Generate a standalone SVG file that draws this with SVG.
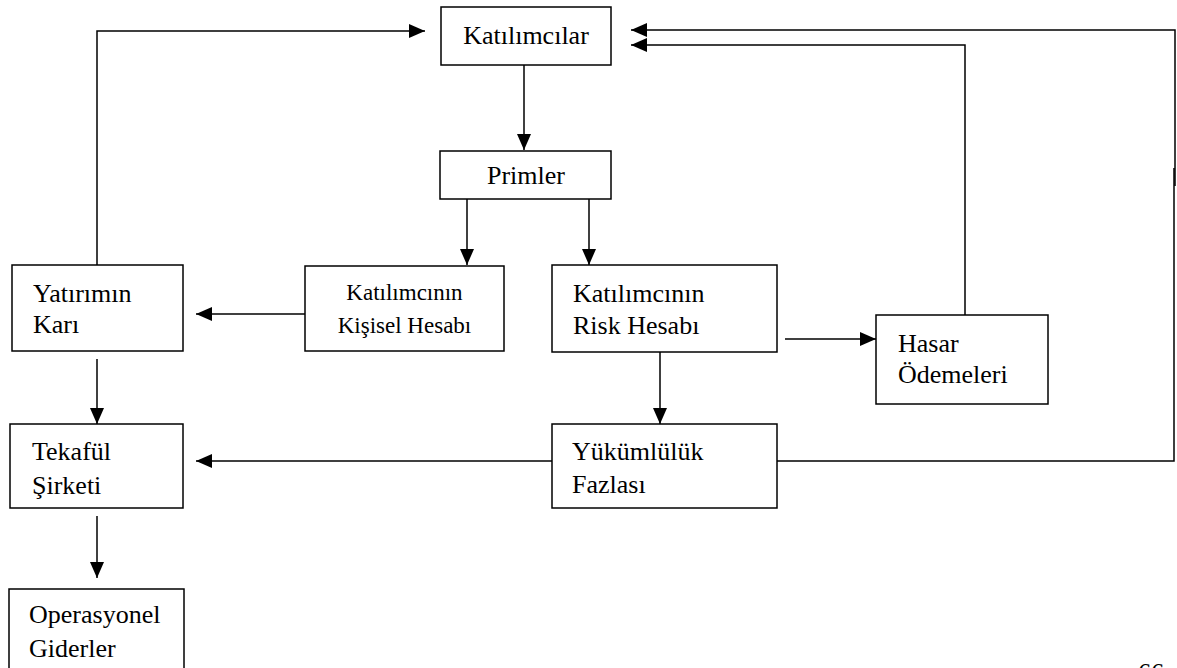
<svg xmlns="http://www.w3.org/2000/svg" width="1177" height="668" viewBox="0 0 1177 668">
<style>
.box{fill:#fff;stroke:#000;stroke-width:1.5}
.ln{fill:none;stroke:#000;stroke-width:1.5}
text{font-family:"Liberation Serif","Times New Roman",serif;font-size:26px;fill:#000}
.c{text-anchor:middle}
.s{font-size:23px}
</style>
<defs>
<marker id="ah" markerWidth="16" markerHeight="14" refX="16" refY="7" orient="auto" markerUnits="userSpaceOnUse">
<path d="M0,0 L16,7 L0,14 Z" fill="#000"/>
</marker>
</defs>
<rect width="1177" height="668" fill="#fff"/>
<g id="connectors">
<path class="ln" d="M97,265 V31 H425" marker-end="url(#ah)"/>
<path class="ln" d="M777,461 H1174 V168"/>
<path class="ln" d="M1175,186 V30 H631" marker-end="url(#ah)"/>
<path class="ln" d="M965,315 V45 H631" marker-end="url(#ah)"/>
<path class="ln" d="M524,65 V150" marker-end="url(#ah)"/>
<path class="ln" d="M467,199 V265" marker-end="url(#ah)"/>
<path class="ln" d="M589,199 V265" marker-end="url(#ah)"/>
<path class="ln" d="M305,314 H196" marker-end="url(#ah)"/>
<path class="ln" d="M785,339 H876" marker-end="url(#ah)"/>
<path class="ln" d="M660,352 V424" marker-end="url(#ah)"/>
<path class="ln" d="M97,359 V424" marker-end="url(#ah)"/>
<path class="ln" d="M552,461 H196" marker-end="url(#ah)"/>
<path class="ln" d="M97,516 V578" marker-end="url(#ah)"/>
</g>
<g id="katilimcilar">
<rect class="box" x="441" y="7" width="170" height="58"/>
<text class="c" x="526" y="44">Katılımcılar</text>
</g>
<g id="primler">
<rect class="box" x="440" y="151" width="171" height="48"/>
<text class="c" x="526" y="184">Primler</text>
</g>
<g id="kisisel">
<rect class="box" x="305" y="266" width="199" height="85"/>
<text class="c s" x="404.5" y="300">Katılımcının</text>
<text class="c s" x="404.5" y="333">Kişisel Hesabı</text>
</g>
<g id="risk">
<rect class="box" x="552" y="265" width="225" height="87"/>
<text x="573" y="302">Katılımcının</text>
<text x="573" y="334">Risk Hesabı</text>
</g>
<g id="hasar">
<rect class="box" x="876" y="315" width="172" height="89"/>
<text x="898" y="352">Hasar</text>
<text x="898" y="383">Ödemeleri</text>
</g>
<g id="yatirimin">
<rect class="box" x="12" y="265" width="171" height="86"/>
<text x="33" y="302">Yatırımın</text>
<text x="33" y="333">Karı</text>
</g>
<g id="tekaful">
<rect class="box" x="10" y="424" width="173" height="84"/>
<text x="32" y="460">Tekafül</text>
<text x="32" y="494">Şirketi</text>
</g>
<g id="yukumluluk">
<rect class="box" x="552" y="424" width="225" height="84"/>
<text x="572" y="460">Yükümlülük</text>
<text x="572" y="493">Fazlası</text>
</g>
<g id="operasyonel">
<rect class="box" x="9" y="589" width="175" height="100"/>
<text x="29" y="623">Operasyonel</text>
<text x="29" y="657">Giderler</text>
</g>
<text x="1138" y="681">66</text>
</svg>
